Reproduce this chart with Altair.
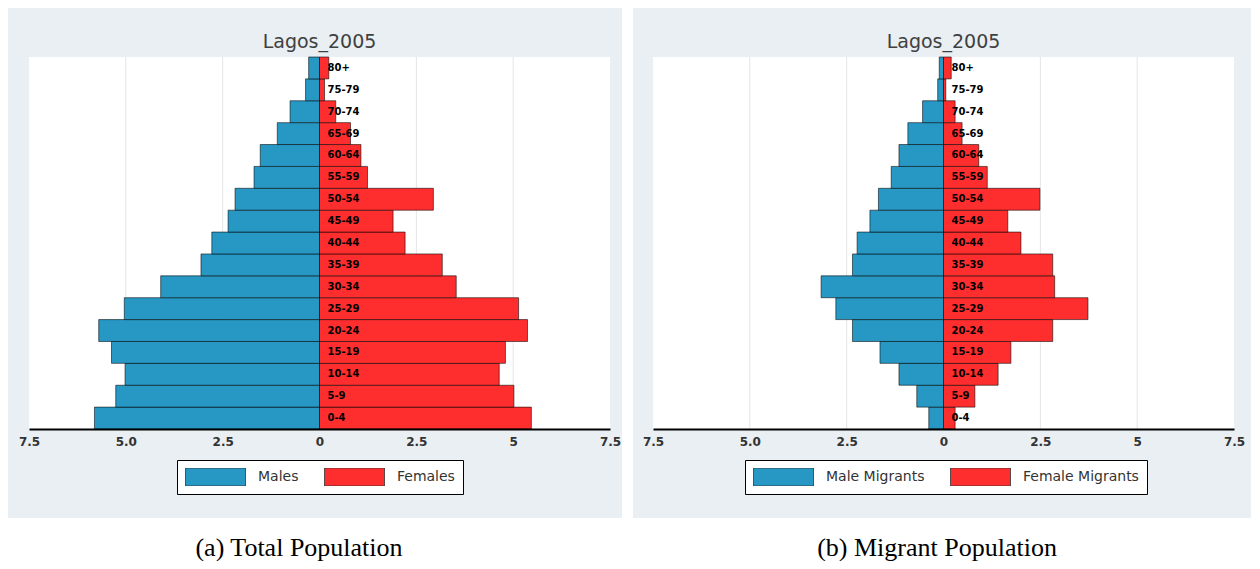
import altair as alt
import pandas as pd

# ---- data (percent of population by age group) ----
ages = ["0-4", "5-9", "10-14", "15-19", "20-24", "25-29", "30-34", "35-39",
        "40-44", "45-49", "50-54", "55-59", "60-64", "65-69", "70-74", "75-79", "80+"]
total_males = [5.81, 5.26, 5.02, 5.37, 5.70, 5.04, 4.10, 3.06, 2.78, 2.36, 2.18, 1.69, 1.53, 1.09, 0.76, 0.36, 0.28]
total_females = [5.47, 5.02, 4.64, 4.80, 5.37, 5.14, 3.53, 3.17, 2.21, 1.90, 2.94, 1.24, 1.07, 0.80, 0.42, 0.13, 0.24]
mig_males = [0.38, 0.69, 1.15, 1.64, 2.35, 2.78, 3.16, 2.35, 2.23, 1.90, 1.68, 1.35, 1.15, 0.92, 0.54, 0.15, 0.11]
mig_females = [0.30, 0.81, 1.41, 1.74, 2.82, 3.73, 2.87, 2.82, 2.00, 1.66, 2.49, 1.13, 0.91, 0.48, 0.30, 0.06, 0.20]
tick_values = [-7.5, -5, -2.5, 0, 2.5, 5, 7.5]
grid_values = [-5, -2.5, 0, 2.5, 5]
panel_title = "Lagos_2005"

BLUE = "#2798c4"
RED = "#ff2e2e"
GRAY = "#e9eff2"
W = 581
H = 372


def x_axis():
    return alt.Axis(values=tick_values, title=None, grid=False, ticks=False,
                    labelExpr="datum.value < 0 ? format(-datum.value, '.1f') : format(datum.value, '~g')",
                    domain=True, domainColor="black", domainWidth=2,
                    labelFont="DejaVu Sans", labelFontSize=12, labelFontWeight="bold",
                    labelColor="#333333", labelPadding=7, labelFlush=False,
                    labelOverlap=False, zindex=1)


def panel(males, females, names, caption, gl, gr, legend_x, cap_x):
    df = pd.DataFrame({
        "age": ages * 2,
        "sex": [names[0]] * len(ages) + [names[1]] * len(ages),
        "value": [-v for v in males] + list(females),
    })
    xscale = alt.Scale(domain=[-7.5, 7.5], nice=False, zero=False)
    yscale = alt.Scale(domain=ages[::-1], paddingInner=0, paddingOuter=0)
    one = pd.DataFrame({"k": [0]})

    bg = alt.Chart(one).mark_rect(color=GRAY).encode(
        x=alt.value(gl), x2=alt.value(W + gr), y=alt.value(-49), y2=alt.value(H + 89))
    white = alt.Chart(one).mark_rect(color="white").encode(
        x=alt.value(0), x2=alt.value(W), y=alt.value(0), y2=alt.value(H))
    grid = alt.Chart(pd.DataFrame({"value": grid_values})).mark_rule(
        color="#e4e4e4", strokeWidth=1).encode(
        x=alt.X("value:Q", scale=xscale, axis=x_axis()), y=alt.value(0), y2=alt.value(H))

    bars = alt.Chart(df).mark_bar(
        stroke="black", strokeOpacity=0.55, strokeWidth=1, opacity=1).encode(
        x=alt.X("value:Q", scale=xscale, stack=None, axis=x_axis()),
        y=alt.Y("age:N", scale=yscale, axis=None),
        color=alt.Color("sex:N", scale=alt.Scale(domain=names, range=[BLUE, RED]),
                        legend=alt.Legend(orient="none", legendX=legend_x, legendY=403,
                                          direction="horizontal", columns=2, title=None,
                                          symbolType="M-1,-0.3H1V0.3H-1Z", symbolSize=3600,
                                          clipHeight=18,
                                          symbolStrokeColor="#333333", symbolStrokeWidth=0.8,
                                          symbolOpacity=1,
                                          fillColor="white", strokeColor="black",
                                          padding=8, columnPadding=25, labelOffset=12,
                                          labelFont="DejaVu Sans", labelFontSize=14,
                                          labelColor="#333333", zindex=1)),
    )

    labels = alt.Chart(pd.DataFrame({"age": ages})).mark_text(
        align="left", baseline="middle", dx=8, font="DejaVu Sans",
        fontWeight="bold", fontSize=10, color="black").encode(
        x=alt.XDatum(0, type="quantitative", scale=xscale, axis=x_axis()),
        y=alt.Y("age:N", scale=yscale, axis=None),
        text="age:N")

    title = alt.Chart(one).mark_text(
        text=panel_title, font="DejaVu Sans", fontSize=19, color="#404040",
        align="center", baseline="middle").encode(
        x=alt.value(W / 2), y=alt.value(-15))

    cap = alt.Chart(one).mark_text(
        text=caption, font="Liberation Serif", fontSize=26, color="black",
        align="center", baseline="middle").encode(
        x=alt.value(cap_x), y=alt.value(491))

    return alt.layer(bg, white, grid, bars, labels, title, cap).properties(width=W, height=H)


left = panel(total_males, total_females, ["Males", "Females"],
             "(a) Total Population", -21, 12, 148, 270)
right = panel(mig_males, mig_females, ["Male Migrants", "Female Migrants"],
              "(b) Migrant Population", -20, 17, 92, 284)

chart = alt.hconcat(left, right, spacing=11).resolve_scale(
    color="independent", x="independent", y="independent"
).resolve_legend(color="independent").properties(
    padding=0, background="white"
).configure_view(stroke=None)

chart.save("out.html", embed_options={"renderer": "svg", "actions": False})
